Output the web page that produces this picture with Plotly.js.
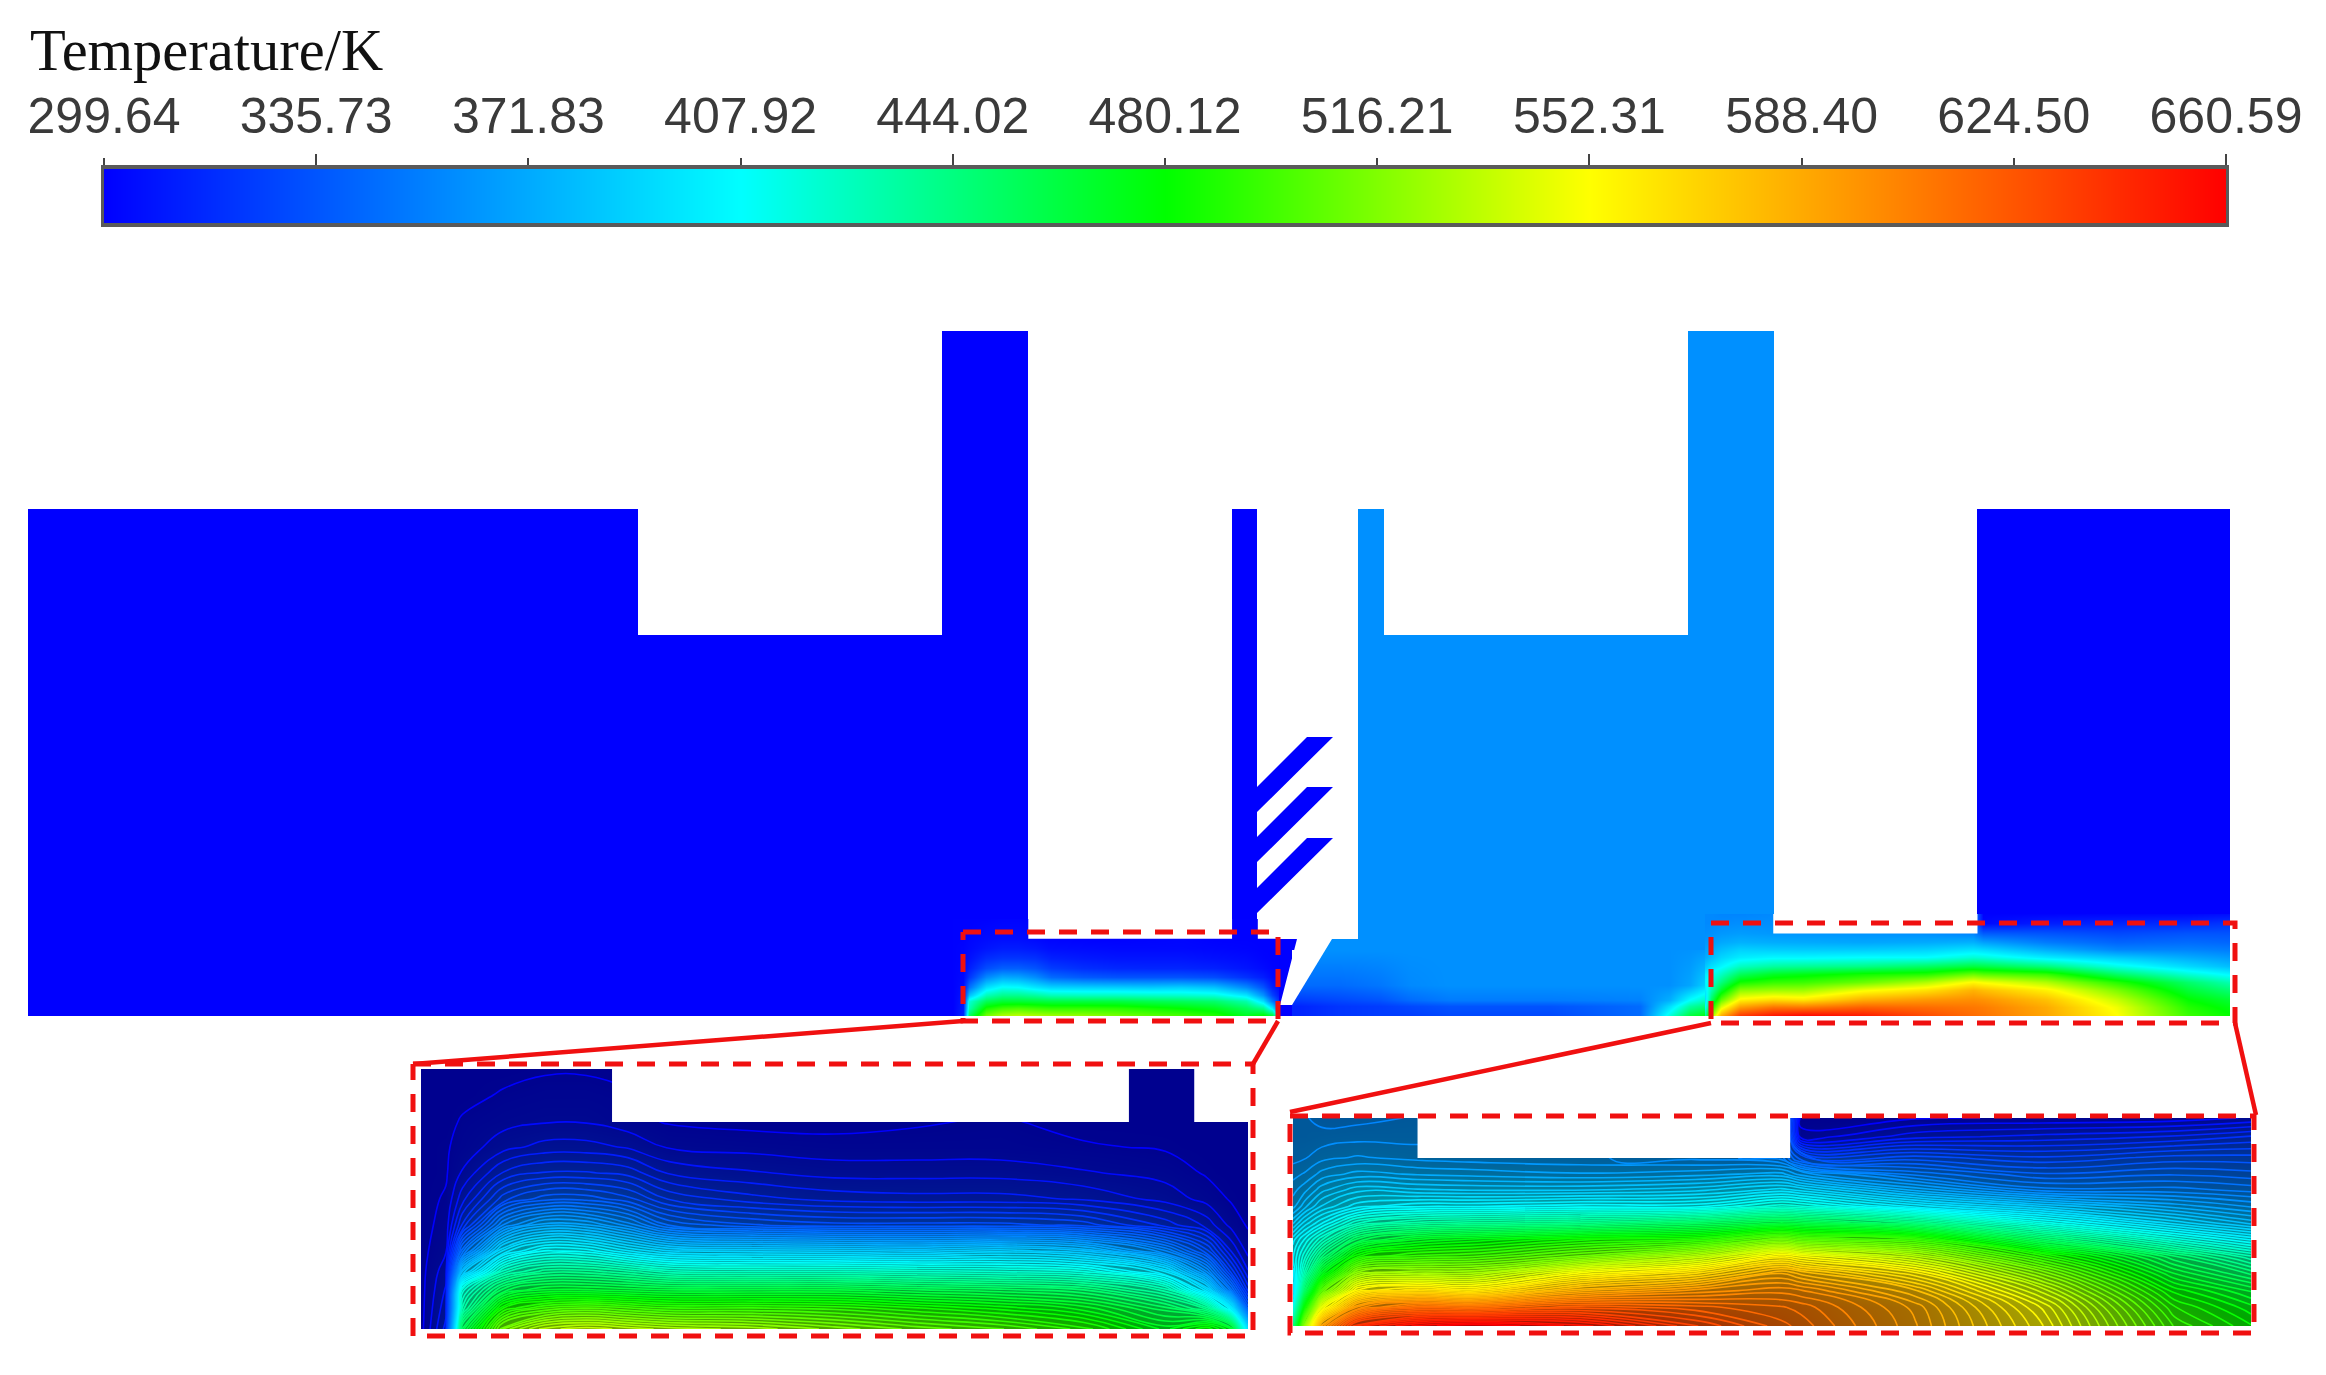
<!DOCTYPE html>
<html>
<head>
<meta charset="utf-8">
<script src="https://cdn.plot.ly/plotly-3.0.1.min.js"></script>
<style>html,body{margin:0;padding:0;background:#fff}#chart{width:2326px;height:1375px;filter:blur(0.7px)}</style>
</head>
<body>
<div id="chart"></div>
<script>
// ---- colour bar ----
const barTicks = [299.64,335.73,371.83,407.92,444.02,480.12,516.21,552.31,588.40,624.50,660.59];
const barLabels = ['299.64','335.73','371.83','407.92','444.02','480.12','516.21','552.31','588.40','624.50','660.59'];
const barLongTicks = [335.73,444.02,552.31,660.59];

// ---- inlet-side zoom field (T/K); x, y are fractions of the panel ----
const fieldAx = [0,.03,.05,.1,.15,.2,.25,.3,.4,.5,.6,.7,.8,.9,.95,.98,1];
const fieldAy = [0,.1,.2,.3,.4,.5,.6,.7,.78,.85,.92,1];
const fieldAz = [
 [300,300,300,300,301,301,300,300,300,300,300,300,300,300,300,300,300],
 [300,300,300,302,303,303,302,300,300,300,300,300,300,300,300,300,300],
 [300,300,302,304,305,305,303,301,300,300,301,302,300,300,300,300,300],
 [300,301,303,308,311,311,309,305,304,303,303,303,302,301,300,300,300],
 [300,301,306,318,322,322,320,313,310,308,308,308,306,304,301,300,300],
 [300,302,312,332,340,340,335,325,319,316,315,315,313,308,304,301,300],
 [300,303,322,358,372,370,360,345,338,335,335,335,332,320,312,304,301],
 [300,305,348,395,410,408,398,390,388,387,385,388,382,358,335,313,304],
 [300,308,382,428,440,440,435,428,426,426,424,422,418,398,362,328,310],
 [300,310,420,456,466,466,464,462,462,462,458,455,450,432,395,350,320],
 [300,312,430,486,498,502,498,494,494,492,486,480,472,455,440,400,340],
 [300,315,455,515,532,536,532,528,524,516,508,502,492,472,485,470,395]
];
const notchAx = [.231,.856,.856,.231,null,.935,1,1,.935];
const notchAy = [0,0,.204,.204,null,0,0,.204,.204];

// ---- outlet-side zoom field (T/K) ----
const fieldBx = [0,.012,.03,.067,.13,.186,.3,.42,.51,.53,.65,.785,.92,1];
const fieldBy = [0,.09,.19,.27,.345,.425,.505,.585,.665,.745,.83,.91,1];
const fieldBz = [
 [358,358,356,356,358,360,362,362,360,300,301,302,303,306],
 [358,358,359,360,360,361,362,360,358,303,312,315,318,322],
 [360,361,364,366,364,363,362,360,355,338,335,330,335,335],
 [364,366,371,375,373,372,370,372,375,368,352,342,345,343],
 [368,372,380,388,386,385,385,388,395,392,372,355,355,352],
 [372,380,390,400,405,405,408,408,420,418,400,385,372,365],
 [385,395,405,425,435,438,442,452,462,460,445,415,392,380],
 [400,410,425,455,470,475,485,490,510,505,495,452,420,405],
 [405,420,445,485,495,497,510,530,555,550,530,490,450,430],
 [400,430,470,520,525,525,550,565,585,580,558,515,465,448],
 [395,450,505,555,565,560,585,595,600,598,578,535,480,465],
 [410,480,545,595,612,610,620,615,610,608,588,548,490,475],
 [440,520,590,640,655,662,652,630,615,612,590,553,497,482]
];
const notchBx = [.13,.519,.519,.13];
const notchBy = [0,0,.192,.192];

// ---- channel floor between the two hot zones (T/K) ----
const stripX = [1292,1300,1340,1380,1410,1450,1550,1640,1670,1690,1710];
const stripY = [950,985,1000,1006,1016];
const stripZ = [
 [361,361,361,361,361,361,361,361,361,362,365],
 [345,345,345,350,358,361,361,361,361,370,395],
 [325,325,330,335,345,352,352,355,375,410,430],
 [315,315,322,325,330,335,335,345,395,435,450],
 [315,315,322,325,325,330,330,345,420,465,480]
];
const wedgeX = [1292,1332,1292];
const wedgeY = [1005,939,939];

// ---- solid geometry outlines ----
const coldBodyX = [28,638,638,942,942,1028,1028,1232,1232,1257,1257,1297,1280,1292,1292,28];
const coldBodyY = [509,509,635,635,331,331,939,939,509,509,939,939,1005,1005,1016,1016];
const finsX = [1257,1307,1333,1257,null,1257,1307,1333,1257,null,1257,1307,1333,1257];
const finsY = [787,737,737,812,null,837,787,787,862,null,888,838,838,913];
const warmBodyX = [1332,1358,1358,1384,1384,1688,1688,1774,1774,1292,1292];
const warmBodyY = [939,939,509,509,635,635,331,331,1016,1016,1005];
const rightBodyX = [1977,2230,2230,1977];
const rightBodyY = [509,509,1016,1016];

// ---- zoom frames ----
const dashX = [963,1278,1278,963,963,null,1711,2235,2235,1711,1711,null,413,1253,1253,413,413,null,1290,2254,2254,1290,1290];
const dashY = [932,932,1021,1021,932,null,923,923,1023,1023,923,null,1064,1064,1336,1336,1064,null,1116,1116,1333,1333,1116];
const leadX = [963,413,null,1278,1253,null,1711,1290,null,2235,2256];
const leadY = [1021,1064,null,1021,1064,null,1023,1112,null,1023,1115];

// ---- styling ----
const W = 2326, H = 1375;
const zmin = 299.64, zmax = 660.59;
const fullScale = [[0,'#0000ff'],[.3,'#00ffff'],[.5,'#00ff00'],[.7,'#ffff00'],[1,'#ff0000']];
const darkScale = [[0,'#00008f'],[.3,'#00a4a4'],[.5,'#00a800'],[.7,'#a4a400'],[1,'#a40000']];
const hidden = {visible:false, fixedrange:true};
const dx = (a,b)=>[a/W,b/W];
const dy = (a,b)=>[1-b/H,1-a/H];

function heat(x,y,z,sub,scale){
  return {type:'heatmap',x,y,z,xaxis:'x'+sub,yaxis:'y'+sub,zmin,zmax,colorscale:scale,zsmooth:'best',showscale:false,hoverinfo:'skip'};
}
function lines(x,y,z,sub){
  return {type:'contour',x,y,z,xaxis:'x'+sub,yaxis:'y'+sub,zmin,zmax,colorscale:fullScale,showscale:false,hoverinfo:'skip',
    autocontour:false,contours:{coloring:'lines',start:301.5,end:660,size:4},line:{width:1.6,smoothing:1.3}};
}
function poly(x,y,color,sub){
  return {type:'scatter',mode:'lines',x,y,xaxis:sub?'x'+sub:'x',yaxis:sub?'y'+sub:'y',fill:'toself',fillcolor:color,
    line:{width:0,color:color},hoverinfo:'skip',showlegend:false};
}

const traces = [
  poly(coldBodyX,coldBodyY,'#0000ff'),
  poly(finsX,finsY,'#0000ff'),
  poly(warmBodyX,warmBodyY,'#0090ff'),
  poly(rightBodyX,rightBodyY,'#0000ff'),
  {type:'heatmap',x:barTicks,y:[0],z:[barTicks],xaxis:'x2',yaxis:'y2',zmin,zmax,colorscale:fullScale,zsmooth:'best',showscale:false,hoverinfo:'skip'},
  heat(stripX,stripY,stripZ,3,fullScale), poly(wedgeX,wedgeY,'#ffffff',3),
  heat(fieldAx,fieldAy,fieldAz,4,fullScale), poly(notchAx,notchAy,'#ffffff',4),
  heat(fieldBx,fieldBy,fieldBz,5,fullScale), poly(notchBx,notchBy,'#ffffff',5),
  heat(fieldAx,fieldAy,fieldAz,6,darkScale), lines(fieldAx,fieldAy,fieldAz,6), poly(notchAx,notchAy,'#ffffff',6),
  heat(fieldBx,fieldBy,fieldBz,7,darkScale), lines(fieldBx,fieldBy,fieldBz,7), poly(notchBx,notchBy,'#ffffff',7),
  {type:'scatter',mode:'lines',x:dashX,y:dashY,xaxis:'x8',yaxis:'y8',line:{color:'#f01010',width:5,dash:'18px,14px'},hoverinfo:'skip',connectgaps:false},
  {type:'scatter',mode:'lines',x:leadX,y:leadY,xaxis:'x8',yaxis:'y8',line:{color:'#f01010',width:4.5},hoverinfo:'skip',connectgaps:false}
];

const panel = (xd,yd,xr,yr,n)=>({
  ['xaxis'+n]:Object.assign({},hidden,{domain:xd,range:xr,anchor:'y'+n}),
  ['yaxis'+n]:Object.assign({},hidden,{domain:yd,range:yr,anchor:'x'+n})
});

const layout = Object.assign({
  width:W,height:H,margin:{l:0,r:0,t:0,b:0},paper_bgcolor:'#fff',plot_bgcolor:'rgba(0,0,0,0)',showlegend:false,
  xaxis:Object.assign({},hidden,{domain:[0,1],range:[0,W]}),
  yaxis:Object.assign({},hidden,{domain:[0,1],range:[H,0]}),
  xaxis2:{domain:dx(104,2226),range:[zmin,zmax],anchor:'y2',side:'top',fixedrange:true,showgrid:false,zeroline:false,
    showline:true,mirror:true,linecolor:'#5a5a5a',linewidth:4,
    tickmode:'array',tickvals:barTicks,ticktext:barLabels,ticks:'outside',ticklen:7,tickwidth:2,tickcolor:'#444',tickangle:0,
    ticklabelstandoff:5,tickfont:{family:'"Liberation Sans", Arial, sans-serif',size:50,color:'#3a3a3a'},
    minor:{tickmode:'array',tickvals:barLongTicks,ticks:'outside',ticklen:11,tickwidth:2,tickcolor:'#444',showgrid:false}},
  yaxis2:{domain:dy(169,223),range:[-.5,.5],anchor:'x2',fixedrange:true,showgrid:false,zeroline:false,showticklabels:false,ticks:'',
    showline:true,mirror:true,linecolor:'#5a5a5a',linewidth:3},
  annotations:[{xref:'paper',yref:'paper',x:28/W,y:1-85/H,xanchor:'left',yanchor:'bottom',showarrow:false,text:'Temperature/K',
    font:{family:'"Liberation Serif", "Times New Roman", serif',size:58.5,color:'#111'}}]
},
 panel(dx(1292,1710),dy(950,1016),[1292,1710],[1016,950],3),
 panel(dx(953,1279),dy(919,1016),[0,1],[1,0],4),
 panel(dx(1705,2230),dy(914,1016),[0,1],[1,0],5),
 panel(dx(421,1248),dy(1069,1329),[0,1],[1,0],6),
 panel(dx(1293,2251),dy(1118,1326),[0,1],[1,0],7),
 panel([0,1],[0,1],[0,W],[H,0],8)
);

Plotly.newPlot('chart',traces,layout,{staticPlot:true,displayModeBar:false});
</script>
</body>
</html>
